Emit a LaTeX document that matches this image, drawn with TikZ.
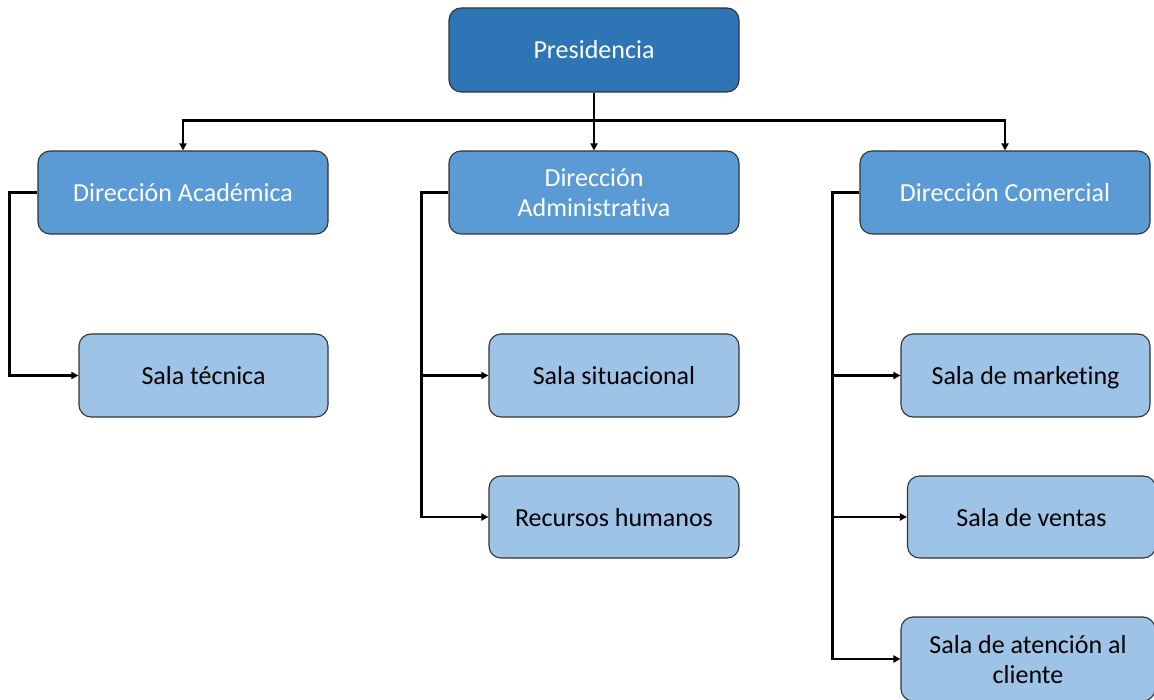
\documentclass[tikz,border=0pt]{standalone}
\usepackage{fontspec}
\setmainfont{Carlito}[Ligatures={NoCommon}]
\usetikzlibrary{arrows.meta}
\definecolor{cdark}{HTML}{2E75B6}
\definecolor{cmid}{HTML}{5B9BD5}
\definecolor{clight}{HTML}{9DC3E6}
\definecolor{cedge}{HTML}{333333}
\newcommand{\boxstrut}{\rule[-7pt]{0pt}{32pt}}
\newcommand{\topstrut}{\rule{0pt}{25pt}}
\tikzset{
  box/.style={draw=cedge, line width=1.1pt, rounded corners=12pt, align=center, inner sep=0pt,
    font=\fontsize{26}{30}\selectfont, minimum height=83pt,
    execute at begin node=\boxstrut, execute at end node=\boxstrut},
  topbox/.style={box, fill=cdark, text=white, minimum width=290pt},
  dirbox/.style={box, fill=cmid, text=white, minimum width=290pt},
  salabox/.style={box, fill=clight, text=black, minimum width=249pt},
  conn/.style={line width=2.2pt, draw=black},
  arr/.style={conn, -{Triangle[length=7pt,width=7pt]}}
}
\begin{document}
\begin{tikzpicture}[x=1pt,y=-1pt]
\useasboundingbox (0,0) rectangle (1154,700);
\node[topbox, minimum height=84pt] (pres) at (594,50) {Presidencia};
\node[dirbox] (acad) at (183,192.5) {Dirección Académica};
\node[dirbox] (admin) at (594,192.5) {\topstrut Dirección\\Administrativa};
\node[dirbox] (com) at (1005,192.5) {Dirección Comercial};
\node[salabox] (tec) at (203.5,375.5) {Sala técnica};
\node[salabox, minimum width=250pt] (sit) at (614,375.5) {Sala situacional};
\node[salabox, minimum width=250pt, minimum height=82pt] (rrhh) at (614,517) {Recursos humanos};
\node[salabox] (mkt) at (1025.5,375.5) {Sala de marketing};
\node[salabox, minimum width=248pt, minimum height=82pt] (ven) at (1031.5,517) {Sala de ventas};
\node[salabox, minimum width=254pt, minimum height=84pt] (cli) at (1028,659) {\topstrut Sala de atención al\\cliente};
\draw[arr] (pres.south) -- (admin.north);
\draw[arr] (pres.south) -- ++(0,28) -| (acad.north);
\draw[arr] (pres.south) -- ++(0,28) -| (com.north);
\draw[arr] (acad.west) -- ++(-28,0) |- (tec.west);
\draw[arr] (admin.west) -- ++(-27,0) |- (sit.west);
\draw[arr] (admin.west) -- ++(-27,0) |- (rrhh.west);
\draw[arr] (com.west) -- ++(-27,0) |- (mkt.west);
\draw[arr] (com.west) -- ++(-27,0) |- (ven.west);
\draw[arr] (com.west) -- ++(-27,0) |- (cli.west);
\end{tikzpicture}
\end{document}
